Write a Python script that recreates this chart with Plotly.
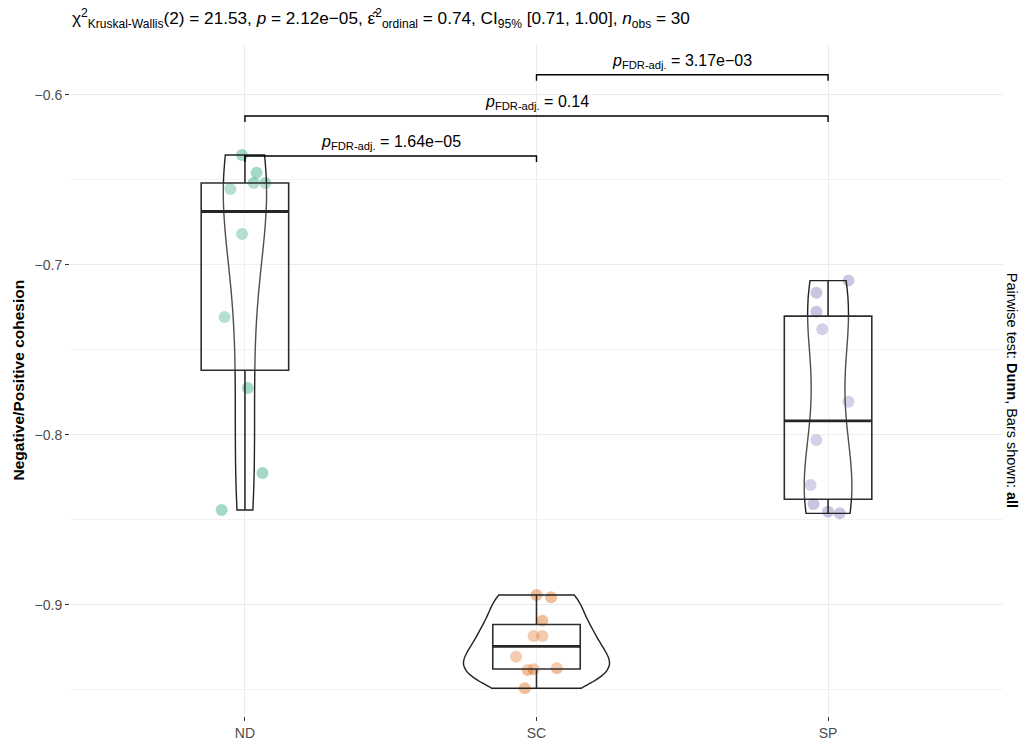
import numpy as np
import plotly.graph_objects as go

# ---------------- data ----------------
groups = ["ND", "SC", "SP"]
nd_values = [-0.6353, -0.6457, -0.6518, -0.6518, -0.6553, -0.6818, -0.7306, -0.7724, -0.8224, -0.8441]
sc_values = [-0.8941, -0.8955, -0.9092, -0.9182, -0.9182, -0.9304, -0.9372, -0.9382, -0.9378, -0.9490]
sp_values = [-0.7092, -0.7163, -0.7275, -0.7378, -0.7804, -0.8029, -0.8294, -0.8406, -0.8451, -0.8461]

# horizontal jitter of the points (category units)
nd_jitter = [-0.01, 0.04, 0.03, 0.07, -0.05, -0.01, -0.07, 0.01, 0.06, -0.08]
sc_jitter = [0.00, 0.05, 0.02, -0.01, 0.02, -0.07, 0.07, -0.03, -0.01, -0.04]
sp_jitter = [0.07, -0.04, -0.04, -0.02, 0.07, -0.04, -0.06, -0.05, 0.00, 0.04]

pair_first = ["ND", "ND", "SC"]
pair_second = ["SC", "SP", "SP"]
pair_p_text = ["1.64e−05", "0.14", "3.17e−03"]
pair_y = [-0.6359, -0.6124, -0.5881]

y_ticks = [-0.9, -0.8, -0.7, -0.6]
y_minor_ticks = [-0.95, -0.85, -0.75, -0.65]

title_text = ("χ<sup>2</sup><sub>Kruskal-Wallis</sub>(2) = 21.53, <i>p</i> = 2.12e−05, "
              "ε\u0302<sup>2</sup><sub>ordinal</sub> = 0.74, CI<sub>95%</sub> [0.71, 1.00], "
              "<i>n</i><sub>obs</sub> = 30")
y_title = "Negative/Positive cohesion"
caption = "Pairwise test: <b>Dunn</b>, Bars shown: <b>all</b>"

# ---------------- styles ----------------
point_colors = ["rgba(27,158,119,0.4)", "rgba(217,95,2,0.4)", "rgba(117,112,179,0.4)"]
FONT = "Liberation Sans, Arial, sans-serif"
LINE = "#222222"
BOX_W = 0.3
VIOLIN_W = 0.5
TIP = 0.0035

values = [nd_values, sc_values, sp_values]
jitters = [nd_jitter, sc_jitter, sp_jitter]


def nrd0(v):
    v = np.asarray(v, dtype=float)
    sd = v.std(ddof=1)
    q75, q25 = np.percentile(v, [75, 25])
    lo = min(sd, (q75 - q25) / 1.34)
    return 0.9 * lo * len(v) ** -0.2


def max_density(v, bw):
    v = np.asarray(v, dtype=float)
    grid = np.linspace(v.min(), v.max(), 512)
    z = (grid[:, None] - v[None, :]) / bw
    dens = np.exp(-0.5 * z ** 2).sum(axis=1) / (len(v) * bw * np.sqrt(2 * np.pi))
    return dens.max()


bws = [nrd0(v) for v in values]
peaks = [max_density(v, b) for v, b in zip(values, bws)]
peak_all = max(peaks)

fig = go.Figure()

# points on the base axes (drawn beneath the overlay axes)
for i, (vals, jit) in enumerate(zip(values, jitters)):
    fig.add_trace(go.Scatter(
        x=[i + j for j in jit], y=vals, mode="markers",
        marker=dict(size=12, color=point_colors[i], line=dict(width=0)),
        showlegend=False, hoverinfo="y", xaxis="x", yaxis="y"))

# violins (outline only, equal-area scaling like ggplot's scale = "area")
for i, vals in enumerate(values):
    fig.add_trace(go.Violin(
        x=[i] * len(vals), y=vals, width=VIOLIN_W * peaks[i] / peak_all,
        scalegroup=f"g{i}", scalemode="width",
        spanmode="hard", bandwidth=bws[i], points=False,
        fillcolor="rgba(0,0,0,0)", line=dict(color=LINE, width=1.4),
        box_visible=False, meanline_visible=False, showlegend=False,
        xaxis="x2", yaxis="y2", hoverinfo="skip"))

# boxes computed from the data (type-7 quantiles, 1.5 IQR whiskers)
for i, vals in enumerate(values):
    v = np.asarray(vals)
    q1, med, q3 = np.percentile(v, [25, 50, 75])
    iqr = q3 - q1
    lf = v[v >= q1 - 1.5 * iqr].min()
    uf = v[v <= q3 + 1.5 * iqr].max()
    fig.add_trace(go.Box(
        x=[i], q1=[q1], median=[med], q3=[q3], lowerfence=[lf], upperfence=[uf],
        width=BOX_W, whiskerwidth=0, boxpoints=False,
        fillcolor="rgba(255,255,255,0.2)", line=dict(color="#2e2e2e", width=1.6),
        showlegend=False, xaxis="x2", yaxis="y2", hoverinfo="skip"))
    fig.add_trace(go.Scatter(
        x=[i - BOX_W / 2, i + BOX_W / 2], y=[med, med], mode="lines",
        line=dict(color="#262626", width=2.8), showlegend=False,
        xaxis="x2", yaxis="y2", hoverinfo="skip"))

# significance brackets
for a, b, ptxt, yv in zip(pair_first, pair_second, pair_p_text, pair_y):
    xa, xb = groups.index(a), groups.index(b)
    fig.add_trace(go.Scatter(
        x=[xa, xa, xb, xb], y=[yv - TIP, yv, yv, yv - TIP], mode="lines",
        line=dict(color="black", width=1.4), showlegend=False,
        xaxis="x2", yaxis="y2", hoverinfo="skip"))
    fig.add_annotation(
        x=(xa + xb) / 2, y=yv, xref="x2", yref="y2", yanchor="bottom", yshift=2,
        text=f"<i>p</i><sub>FDR-adj.</sub> = {ptxt}", showarrow=False,
        font=dict(size=16, color="black", family=FONT))

XR = [-0.6, 2.6]
YR = [-0.9653, -0.5706]

fig.update_layout(
    width=1027, height=745,
    margin=dict(l=70, r=24, t=45, b=29, autoexpand=False),
    paper_bgcolor="white", plot_bgcolor="white",
    font=dict(family=FONT, color="#4d4d4d"),
    violinmode="overlay", boxmode="overlay",
    xaxis=dict(range=XR, tickmode="array", tickvals=list(range(len(groups))), ticktext=groups,
               showgrid=True, gridcolor="#ebebeb", gridwidth=1, zeroline=False,
               ticks="outside", ticklen=4, tickcolor="#333333", showline=False,
               automargin=False,
               tickfont=dict(size=14, color="#4d4d4d", family=FONT)),
    yaxis=dict(range=YR, tickmode="array", tickvals=y_ticks,
               showgrid=True, gridcolor="#ebebeb", gridwidth=1, zeroline=False,
               ticks="outside", ticklen=4, tickcolor="#333333", showline=False,
               automargin=False,
               tickfont=dict(size=14, color="#4d4d4d", family=FONT),
               minor=dict(tickmode="array", tickvals=y_minor_ticks, showgrid=True,
                          gridcolor="#f2f2f2", gridwidth=1, ticks="")),
    xaxis2=dict(range=XR, overlaying="x", visible=False, matches="x", automargin=False),
    yaxis2=dict(range=YR, overlaying="y", visible=False, matches="y", automargin=False),
)

fig.add_annotation(
    x=0, y=1.04, xref="paper", yref="paper", xanchor="left", yanchor="middle",
    text=title_text, showarrow=False, font=dict(size=17.2, color="black", family=FONT))

fig.add_annotation(
    x=-52 / 933, y=0.5, xref="paper", yref="paper", xanchor="center", yanchor="middle",
    text=f"<b>{y_title}</b>", textangle=-90, showarrow=False,
    font=dict(size=15.5, color="black", family=FONT))

fig.add_annotation(
    x=1.0097, y=0.486, xref="paper", yref="paper", xanchor="center", yanchor="middle",
    text=caption, textangle=90, showarrow=False,
    font=dict(size=14.5, color="black", family=FONT))

fig.write_html("out.html", config={"displayModeBar": False},
               post_script="document.body.style.margin='0';document.body.style.overflow='hidden';")
